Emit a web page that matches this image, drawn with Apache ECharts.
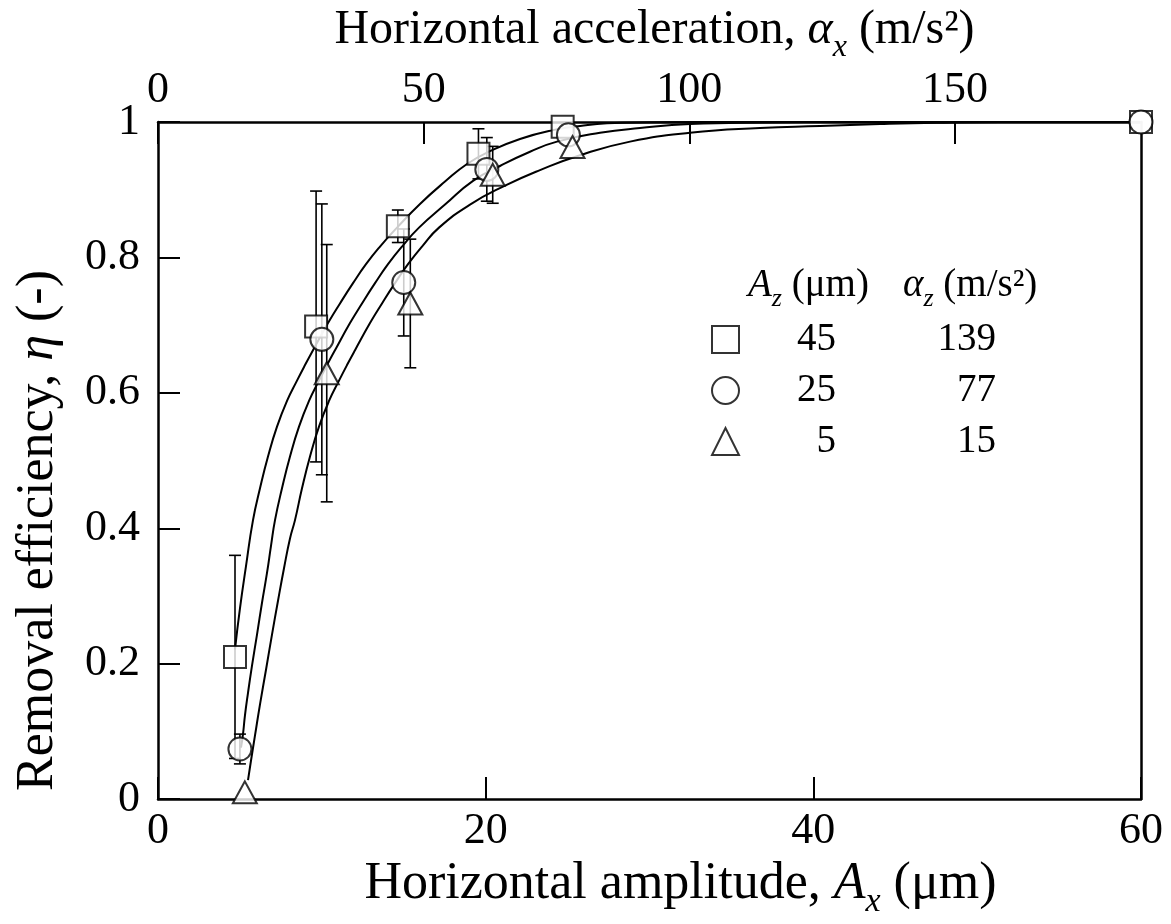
<!DOCTYPE html>
<html><head><meta charset="utf-8">
<script src="https://cdn.jsdelivr.net/npm/echarts@6/dist/echarts.min.js"></script>
<style>html,body{margin:0;padding:0;background:#fff}#c{width:1171px;height:924px}</style>
</head><body><div id="c"></div>
<script>
const FONT = '"Liberation Serif", "Times New Roman", serif';

// ---- axes ----
const xBottomMin = 0, xBottomMax = 60, xBottomInterval = 20;
const xTopMin = 0, xTopMax = 185, xTopInterval = 50;
const yMin = 0, yMax = 1, yInterval = 0.2;

// ---- data: Az = 45 um (squares) ----
const sqX   = [4.7, 9.65, 14.64, 19.56, 24.7, 60];
const sqY   = [0.21, 0.698, 0.846, 0.953, 0.993, 1.0];
const sqErr = [0.15, 0.20, 0.024, 0.037, 0, 0];
// ---- Az = 25 um (circles) ----
const ciX   = [5.0, 10.0, 15.0, 20.07, 25.05, 60];
const ciY   = [0.074, 0.679, 0.763, 0.930, 0.981, 1.0];
const ciErr = [0.022, 0.20, 0.079, 0.047, 0, 0];
// ---- Az = 5 um (triangles) ----
const trX   = [5.3, 10.3, 15.4, 20.43, 25.3];
const trY   = [0.01, 0.629, 0.732, 0.922, 0.963];
const trErr = [0, 0.19, 0.095, 0.042, 0];

// ---- fitted curves ----
const sqCurve = [[4.70,0.221],[5.005,0.282],[5.371,0.344],[5.799,0.412],[6.226,0.459],[6.714,0.506],[7.264,0.550],[7.874,0.588],[8.484,0.618],[8.973,0.641],[9.461,0.663],[10.377,0.703],[11.109,0.732],[11.903,0.762],[12.696,0.790],[13.551,0.816],[14.588,0.844],[15.992,0.879],[17.518,0.912],[18.861,0.938],[20.265,0.957],[22.096,0.975],[24.11,0.988],[25.759,0.994],[27.406,0.998],[30.03,0.9995],[33.08,1.0],[60,1.0]];
const ciCurve = [[5.066,0.076],[5.188,0.096],[5.310,0.124],[5.494,0.157],[5.738,0.197],[6.043,0.243],[6.348,0.290],[6.653,0.334],[6.897,0.374],[7.142,0.412],[7.569,0.459],[8.057,0.506],[8.607,0.550],[9.217,0.588],[9.827,0.618],[10.316,0.641],[10.804,0.663],[11.719,0.703],[12.452,0.732],[13.246,0.762],[14.039,0.790],[14.893,0.816],[15.931,0.844],[17.518,0.878],[19.227,0.913],[20.875,0.935],[22.706,0.956],[24.354,0.971],[26.979,0.984],[29.421,0.991],[32.473,0.997],[36.745,0.9993],[42.24,1.0],[60,1.0]];
const trCurve = [[5.494,0.028],[5.677,0.057],[5.921,0.094],[6.226,0.140],[6.592,0.191],[6.958,0.243],[7.325,0.293],[7.691,0.341],[8.057,0.385],[8.362,0.412],[8.790,0.459],[9.278,0.506],[9.827,0.550],[10.438,0.588],[11.048,0.618],[11.536,0.641],[12.025,0.663],[12.940,0.703],[13.673,0.732],[14.466,0.762],[15.260,0.790],[16.114,0.816],[17.152,0.844],[19.044,0.878],[21.181,0.906],[23.317,0.929],[25.759,0.951],[28.811,0.971],[32.473,0.984],[36.745,0.991],[40.408,0.994],[44.07,0.997],[47.549,0.999],[51.39,1.0],[60,1.0]];

// ---- legend table ----
const legendNames  = ['Az45', 'Az25', 'Az5'];
const legendAz     = ['45', '25', '5'];
const legendAlphaZ = ['139', '77', '15'];

const pts = (xs, ys) => xs.map((x, i) => [x, ys[i]]);
const errData = (xs, ys, es) => xs.map((x, i) => [x, ys[i] - es[i], ys[i] + es[i]]).filter(d => d[2] > d[1]);

function errSeries(xs, ys, es) {
  return {
    type: 'custom', z: 2, silent: true,
    data: errData(xs, ys, es),
    encode: { x: 0, y: [1, 2] },
    renderItem(params, api) {
      const lo = api.coord([api.value(0), api.value(1)]);
      const hi = api.coord([api.value(0), api.value(2)]);
      const cw = 6;
      const st = { stroke: '#000', lineWidth: 1.6 };
      return { type: 'group', children: [
        { type: 'line', shape: { x1: lo[0], y1: lo[1], x2: hi[0], y2: hi[1] }, style: st },
        { type: 'line', shape: { x1: lo[0] - cw, y1: lo[1], x2: lo[0] + cw, y2: lo[1] }, style: st },
        { type: 'line', shape: { x1: hi[0] - cw, y1: hi[1], x2: hi[0] + cw, y2: hi[1] }, style: st }
      ]};
    }
  };
}
function curveSeries(data) {
  return { type: 'line', data, smooth: 0.5, showSymbol: false, symbol: 'none', z: 3, silent: true,
    lineStyle: { color: '#000', width: 2 } };
}
const mk = { color: '#fff', borderColor: '#000', borderWidth: 2 };
const axisLineStyle = { color: '#000', width: 2.5 };
const nameRich = (fs) => ({
  n: { fontFamily: FONT, fontSize: fs, color: '#000', verticalAlign: 'top', lineHeight: fs + 4 },
  i: { fontFamily: FONT, fontSize: fs, color: '#000', fontStyle: 'italic', verticalAlign: 'top', lineHeight: fs + 4 },
  s: { fontFamily: FONT, fontSize: Math.round(fs * 0.66), color: '#000', fontStyle: 'italic', verticalAlign: 'top',
       padding: [Math.round(fs * 0.52), 0, 0, 0], lineHeight: Math.round(fs * 0.7) }
});

const chart = echarts.init(document.getElementById('c'), null, { renderer: 'canvas' });
chart.setOption({
  backgroundColor: '#fff',
  animation: false,
  textStyle: { fontFamily: FONT },
  grid: { left: 158, right: 30, top: 122, bottom: 122, containLabel: false },
  xAxis: [
    { type: 'value', position: 'bottom', min: xBottomMin, max: xBottomMax, interval: xBottomInterval,
      axisLine: { show: true, onZero: false, lineStyle: axisLineStyle },
      axisTick: { show: true, inside: true, length: 22, lineStyle: { color: '#000', width: 2 } },
      splitLine: { show: false },
      axisLabel: { color: '#000', fontFamily: FONT, fontSize: 44, margin: 10 },
      name: '{n|Horizontal amplitude, }{i|A}{s|x}{n| (μm)}', nameLocation: 'middle', nameGap: 50,
      nameTextStyle: { padding: [0, 0, 0, 62], rich: nameRich(52) } },
    { type: 'value', position: 'top', min: xTopMin, max: xTopMax, interval: xTopInterval,
      axisLine: { show: true, onZero: false, lineStyle: axisLineStyle },
      axisTick: { show: true, inside: true, length: 22, lineStyle: { color: '#000', width: 2 } },
      splitLine: { show: false },
      axisLabel: { color: '#000', fontFamily: FONT, fontSize: 44, margin: 10, showMaxLabel: false },
      name: '{n|Horizontal acceleration, }{i|α}{s|x}{n| (m/s²)}', nameLocation: 'middle', nameGap: 60,
      nameTextStyle: { padding: [0, 0, 0, 10], rich: nameRich(48) } }
  ],
  yAxis: [
    { type: 'value', position: 'left', min: yMin, max: yMax, interval: yInterval,
      axisLine: { show: true, onZero: false, lineStyle: axisLineStyle },
      axisTick: { show: true, inside: true, length: 22, lineStyle: { color: '#000', width: 2 } },
      splitLine: { show: false },
      axisLabel: { color: '#000', fontFamily: FONT, fontSize: 44, margin: 18 },
      name: '{n|Removal efficiency, }{i|η}{n| (-)}', nameLocation: 'middle', nameGap: 94,
      nameTextStyle: { padding: [0, 140, 0, 0], rich: {
        n: { fontFamily: FONT, fontSize: 52, color: '#000' },
        i: { fontFamily: FONT, fontSize: 52, color: '#000', fontStyle: 'italic' }
      } } },
    { type: 'value', position: 'right', min: yMin, max: yMax, interval: yInterval,
      axisLine: { show: true, onZero: false, lineStyle: axisLineStyle },
      axisTick: { show: false }, axisLabel: { show: false }, splitLine: { show: false } }
  ],
  legend: {
    data: legendNames, orient: 'vertical', left: 706, top: 315,
    itemWidth: 27, itemHeight: 27, itemGap: 12, selectedMode: false,
    textStyle: { fontFamily: FONT, fontSize: 39, color: '#000',
      rich: {
        a: { fontFamily: FONT, fontSize: 39, color: '#000', width: 92, align: 'right' },
        b: { fontFamily: FONT, fontSize: 39, color: '#000', width: 160, align: 'right' }
      } },
    formatter: name => { const k = legendNames.indexOf(name); return '{a|' + legendAz[k] + '}{b|' + legendAlphaZ[k] + '}'; }
  },
  graphic: [
    { type: 'text', left: 748, top: 266, style: { text: '{i|A}{s|z}{n| (μm)}', rich: {
      n: { fontFamily: FONT, fontSize: 39, fill: '#000', verticalAlign: 'top', lineHeight: 42 },
      i: { fontFamily: FONT, fontSize: 39, fill: '#000', fontStyle: 'italic', verticalAlign: 'top', lineHeight: 42 },
      s: { fontFamily: FONT, fontSize: 26, fill: '#000', fontStyle: 'italic', verticalAlign: 'top', padding: [20, 0, 0, 0], lineHeight: 28 } } } },
    { type: 'text', left: 903, top: 266, style: { text: '{i|α}{s|z}{n| (m/s²)}', rich: {
      n: { fontFamily: FONT, fontSize: 39, fill: '#000', verticalAlign: 'top', lineHeight: 42 },
      i: { fontFamily: FONT, fontSize: 39, fill: '#000', fontStyle: 'italic', verticalAlign: 'top', lineHeight: 42 },
      s: { fontFamily: FONT, fontSize: 26, fill: '#000', fontStyle: 'italic', verticalAlign: 'top', padding: [20, 0, 0, 0], lineHeight: 28 } } } }
  ],
  series: [
    curveSeries(sqCurve), curveSeries(ciCurve), curveSeries(trCurve),
    errSeries(sqX, sqY, sqErr), errSeries(ciX, ciY, ciErr), errSeries(trX, trY, trErr),
    { name: 'Az45', type: 'scatter', symbol: 'rect', symbolSize: 22, z: 5, data: pts(sqX, sqY), itemStyle: mk },
    { name: 'Az25', type: 'scatter', symbol: 'circle', symbolSize: 23, z: 5, data: pts(ciX, ciY), itemStyle: mk },
    { name: 'Az5', type: 'scatter', symbol: 'triangle', symbolSize: [24, 22], z: 5, data: pts(trX, trY), itemStyle: mk }
  ]
});
</script></body></html>
